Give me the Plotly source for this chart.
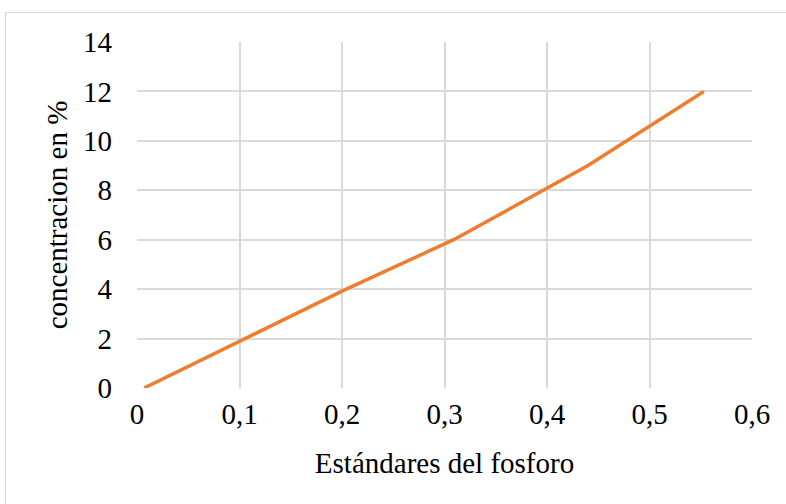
import plotly.graph_objects as go

x_vals = [0.007, 0.1, 0.2, 0.309, 0.44, 0.553]
y_vals = [0, 1.87, 3.92, 6, 9, 12]
x_ticks = [0, 0.1, 0.2, 0.3, 0.4, 0.5, 0.6]
y_ticks = [0, 2, 4, 6, 8, 10, 12, 14]

W, H = 786, 504
L, R, T, B = 137, 34, 42, 116
pw, ph = W - L - R, H - T - B

fig = go.Figure(go.Scatter(x=x_vals, y=y_vals, mode="lines",
                           line=dict(color="#ED7D31", width=3.5)))

font = dict(family="Liberation Serif, Times New Roman, serif", size=29, color="#000000")

def px_x(p):
    return (p - L) / pw

def px_y(p):
    return (H - B - p) / ph

fig.update_layout(
    width=W, height=H,
    margin=dict(l=L, r=R, t=T, b=B),
    paper_bgcolor="white", plot_bgcolor="white",
    separators=",.",
    showlegend=False,
    font=font,
    xaxis=dict(range=[0, 0.6], tickvals=x_ticks, showgrid=True, gridcolor="#d9d9d9",
               gridwidth=1.5, zeroline=False, showline=False, ticks="",
               ticklabelstandoff=6, tickfont=font, automargin=False,
               title=dict(text="Estándares del fosforo", font=font, standoff=23)),
    yaxis=dict(range=[0, 14], tickvals=y_ticks, showgrid=True, gridcolor="#d9d9d9",
               gridwidth=1.5, zeroline=False, showline=False, ticks="",
               ticklabelstandoff=24, tickfont=font, automargin=False,
               title=dict(text="concentracion en %", font=font, standoff=6)),
    shapes=[dict(type="rect", xref="paper", yref="paper",
                 x0=px_x(5.5), x1=px_x(800), y0=px_y(520), y1=px_y(12.5),
                 line=dict(color="#d9d9d9", width=1.2), fillcolor="rgba(0,0,0,0)",
                 layer="below")],
)

fig.write_html("out.html", config={"displayModeBar": False},
               post_script="document.body.style.margin='0';")
